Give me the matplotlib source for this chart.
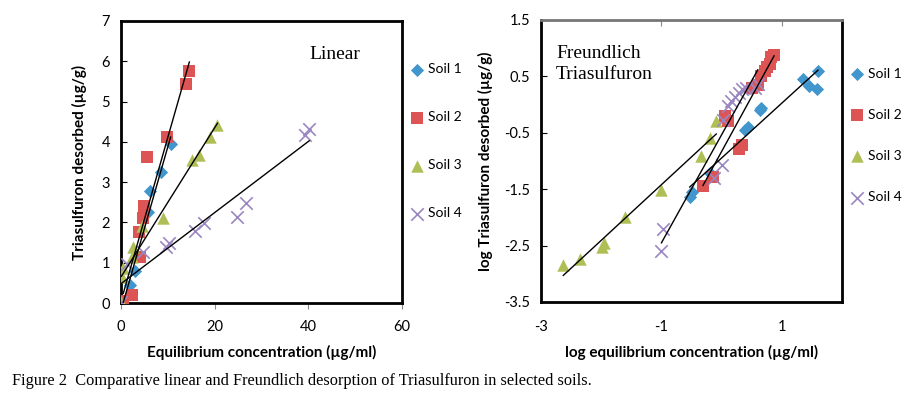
import numpy as np
import matplotlib
matplotlib.use('Agg')
import matplotlib.pyplot as plt

# linear desorption data (equilibrium conc ug/ml, desorbed ug/g)
lin_x1 = [0.3, 1.9, 3.1, 5.8, 6.3, 8.5, 10.6]
lin_y1 = [0.05, 0.45, 0.8, 2.25, 2.78, 3.25, 3.95]
lin_x2 = [0.5, 2.3, 4.1, 3.9, 4.8, 5.0, 5.5, 9.8, 13.9, 14.6]
lin_y2 = [0.05, 0.2, 1.15, 1.75, 2.1, 2.4, 3.63, 4.12, 5.43, 5.77]
lin_x3 = [0.1, 0.2, 0.5, 2.3, 2.6, 4.4, 8.9, 15.1, 16.7, 19.0, 20.6]
lin_y3 = [0.02, 0.65, 0.86, 1.15, 1.4, 1.9, 2.1, 3.55, 3.68, 4.12, 4.42]
lin_x4 = [0.1, 1.2, 4.6, 9.7, 10.3, 15.7, 17.7, 24.7, 26.8, 39.3, 40.2]
lin_y4 = [0.02, 0.98, 1.27, 1.4, 1.5, 1.79, 1.98, 2.14, 2.49, 4.17, 4.32]

# freundlich (log-log) data
log_x1 = [-0.53, -0.5, -0.2, 0.38, 0.43, 0.64, 0.66, 1.35, 1.45, 1.58, 1.6]
log_y1 = [-1.63, -1.55, -1.22, -0.45, -0.4, -0.1, -0.06, 0.46, 0.33, 0.28, 0.6]
log_x2 = [-0.31, -0.14, 0.05, 0.1, 0.28, 0.34, 0.5, 0.6, 0.65, 0.72, 0.76, 0.8, 0.82, 0.87]
log_y2 = [-1.45, -1.28, -0.2, -0.3, -0.78, -0.72, 0.3, 0.35, 0.5, 0.6, 0.66, 0.72, 0.85, 0.88]
log_x3 = [-2.63, -2.35, -1.98, -1.95, -1.6, -1.0, -0.34, -0.2, -0.09]
log_y3 = [-2.84, -2.73, -2.52, -2.45, -2.0, -1.52, -0.92, -0.6, -0.3]
log_x4 = [-1.0, -0.98, -0.12, 0.0, 0.02, 0.1, 0.16, 0.22, 0.28, 0.34, 0.4, 0.55, 0.6]
log_y4 = [-2.6, -2.2, -1.3, -1.08, -0.27, -0.02, 0.06, 0.13, 0.2, 0.27, 0.3, 0.3, 0.36]

labels = ['Soil 1', 'Soil 2', 'Soil 3', 'Soil 4']
colors = ['#4196CD', '#DD5454', '#AFBE55', '#9A87C2']
markers = ['D', 's', '^', 'x']
msize = [45, 80, 80, 80]

plt.rcParams['font.family'] = ['Lato', 'DejaVu Sans']
plt.rcParams['axes.unicode_minus'] = False

fig = plt.figure(figsize=(9.13, 3.93), dpi=100)
ax1 = fig.add_axes([0.1325, 0.229, 0.3078, 0.7176])
ax2 = fig.add_axes([0.5926, 0.2316, 0.3297, 0.7176])


def draw(ax, xs, ys):
    for i in range(4):
        x = np.array(xs[i])
        y = np.array(ys[i])
        if markers[i] == 'x':
            ax.scatter(x, y, marker='x', s=msize[i], color=colors[i], linewidths=1.2,
                       label=labels[i], zorder=3)
        else:
            ax.scatter(x, y, marker=markers[i], s=msize[i], color=colors[i],
                       linewidths=0, label=labels[i], zorder=3)
    for i in range(4):
        x = np.array(xs[i])
        y = np.array(ys[i])
        k, b = np.polyfit(x, y, 1)
        xx = np.array([x.min(), x.max()])
        ax.plot(xx, k * xx + b, color='black', lw=1, zorder=4)
    for s in ax.spines.values():
        s.set_linewidth(2)
        s.set_color('black')


draw(ax1, [lin_x1, lin_x2, lin_x3, lin_x4], [lin_y1, lin_y2, lin_y3, lin_y4])
ax1.set_xlim(0, 60)
ax1.set_ylim(0, 7)
ax1.set_xticks([0, 20, 40, 60])
ax1.set_yticks(range(0, 8))
ax1.tick_params(axis='x', direction='out', length=4, color='#888888', labelsize=10.5, pad=8)
ax1.tick_params(axis='y', direction='in', length=4, labelsize=10.5, pad=8)
ax1.set_xlabel('Equilibrium concentration (µg/ml)', fontsize=11, fontweight='bold', labelpad=8)
ax1.set_ylabel('Triasulfuron desorbed (µg/g)', fontsize=11, fontweight='bold', labelpad=10)
ax1.text(0.67, 0.865, 'Linear', transform=ax1.transAxes, fontsize=14,
         family='Liberation Serif')
ax1.legend(loc='upper left', bbox_to_anchor=(1.0, 0.88), frameon=False, fontsize=10,
           labelspacing=2.6, handletextpad=0.3, handlelength=1.0, borderaxespad=0.2)

draw(ax2, [log_x1, log_x2, log_x3, log_x4], [log_y1, log_y2, log_y3, log_y4])
ax2.set_xlim(-3, 2)
ax2.set_ylim(-3.5, 1.5)
ax2.set_xticks([-3, -1, 1])
ax2.set_yticks([-3.5, -2.5, -1.5, -0.5, 0.5, 1.5])
ax2.set_yticklabels(['-3.5', '-2.5', '-1.5', '-0.5', '0.5', '1.5'])
ax2.spines['top'].set_color('#777777')
ax2.tick_params(axis='x', bottom=False, top=True, direction='in', length=4,
                color='#888888', labelsize=10.5, pad=13)
ax2.tick_params(axis='y', direction='in', length=4, labelsize=10.5, pad=8)
ax2.set_xlabel('log equilibrium concentration (µg/ml)', fontsize=11, fontweight='bold', labelpad=8)
ax2.set_ylabel('log Triasulfuron desorbed (µg/g)', fontsize=11, fontweight='bold', labelpad=8)
ax2.text(0.05, 0.79, 'Freundlich\nTriasulfuron', transform=ax2.transAxes, fontsize=14,
         family='Liberation Serif', linespacing=1.3)
ax2.legend(loc='upper left', bbox_to_anchor=(1.0, 0.86), frameon=False, fontsize=10,
           labelspacing=2.1, handletextpad=0.3, handlelength=1.0, borderaxespad=0.2)

fig.text(0.013, 0.02, 'Figure 2  Comparative linear and Freundlich desorption of Triasulfuron in selected soils.',
         fontsize=11.8, family='Liberation Serif')

fig.savefig('out.png', dpi=100)
